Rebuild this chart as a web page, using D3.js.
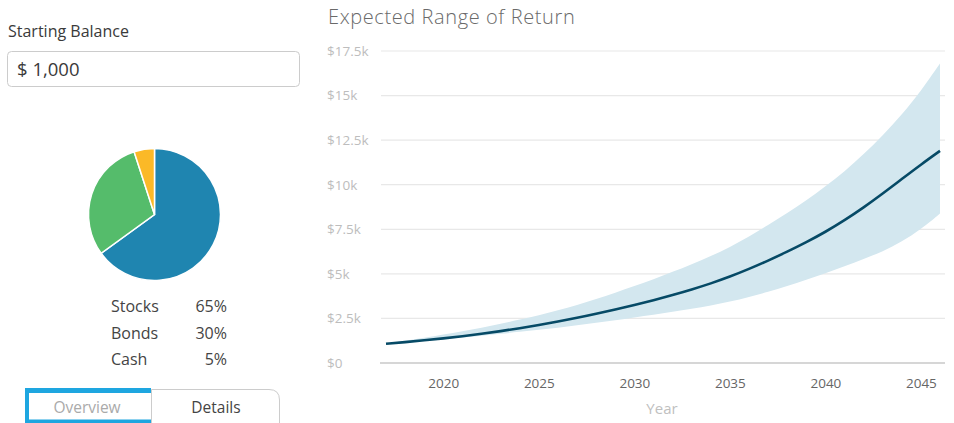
<!DOCTYPE html>
<html>
  <head>
    <script src="https://cdn.jsdelivr.net/npm/d3@7"></script>
    <style>
      body { margin: 0; background: #fff; font-family: "Open Sans", sans-serif; }
      svg { display: block; }
    </style>
  </head>
  <body>
    <script>
      // allocation
      const assets = ["Stocks", "Bonds", "Cash"];
      const shares = [65, 30, 5];
      const assetColors = ["#1f85b0", "#55bc6b", "#fbb927"];

      // projection, one point per year
      const years = d3.range(2017, 2047);
      const median = [1080, 1170, 1270, 1380, 1500, 1635, 1785, 1950, 2130, 2330,
                      2530, 2760, 3000, 3250, 3520, 3810, 4120, 4460, 4840, 5270,
                      5740, 6240, 6770, 7350, 8000, 8720, 9500, 10320, 11130, 11900];
      const upper = [1080, 1240, 1410, 1590, 1780, 1980, 2200, 2430, 2680, 2950,
                     3250, 3580, 3935, 4310, 4700, 5110, 5540, 5990, 6500, 7090,
                     7730, 8400, 9110, 9900, 10740, 11700, 12760, 13920, 15250, 16800];
      const lower = [1080, 1160, 1245, 1335, 1430, 1530, 1635, 1745, 1860, 1980,
                     2110, 2250, 2400, 2560, 2710, 2870, 3040, 3220, 3440, 3700,
                     3990, 4310, 4660, 5030, 5420, 5840, 6250, 6800, 7500, 8380];
      const yTicks = [0, 2500, 5000, 7500, 10000, 12500, 15000, 17500];
      const xTicks = [2020, 2025, 2030, 2035, 2040, 2045];

      const W = 954, H = 423;
      const svg = d3.select("body").append("svg")
          .attr("width", W)
          .attr("height", H);

      // ---- left panel ----
      svg.append("text")
          .attr("x", 8).attr("y", 37)
          .style("font-size", "16px").style("fill", "#3a3a3a")
          .text("Starting Balance");

      svg.append("rect")
          .attr("x", 7.5).attr("y", 51.5)
          .attr("width", 292).attr("height", 35)
          .attr("rx", 4)
          .attr("fill", "#fff").attr("stroke", "#ccc");

      svg.append("text")
          .attr("x", 17).attr("y", 76)
          .style("font-size", "18.5px").style("fill", "#3a3a3a")
          .text("$ 1,000");

      const pieData = d3.pie().sort(null)(shares);
      const arc = d3.arc().innerRadius(0).outerRadius(66);
      svg.append("g")
          .attr("transform", "translate(154.5,214.5)")
          .selectAll("path")
          .data(pieData)
          .join("path")
          .attr("d", arc)
          .attr("fill", (d, i) => assetColors[i])
          .attr("stroke", "#fff")
          .attr("stroke-width", 1.5);

      const legend = svg.append("g")
          .style("font-size", "16px").style("fill", "#444");
      assets.forEach((a, i) => {
        legend.append("text")
            .attr("x", 111).attr("y", 312 + i * 26.5)
            .text(a);
        legend.append("text")
            .attr("x", 227).attr("y", 312 + i * 26.5)
            .attr("text-anchor", "end")
            .text(shares[i] + "%");
      });

      // tabs
      svg.append("path")
          .attr("d", "M151.5,423 V389.5 H269 Q279.5,389.5 279.5,400 V423")
          .attr("fill", "#fff").attr("stroke", "#ccc");
      svg.append("path")
          .attr("d", "M25,388 H151 V393 H29 V419.5 H151 V424 H25 Z")
          .attr("fill", "#1ea6e0");
      svg.append("text")
          .attr("x", 87).attr("y", 413)
          .attr("text-anchor", "middle")
          .style("font-size", "15.5px").style("fill", "#aaa")
          .text("Overview");
      svg.append("text")
          .attr("x", 216).attr("y", 413)
          .attr("text-anchor", "middle")
          .style("font-size", "15.5px").style("fill", "#444")
          .text("Details");

      // ---- chart ----
      svg.append("text")
          .attr("x", 328).attr("y", 24)
          .style("font-size", "20px").style("font-weight", 300)
          .style("letter-spacing", "0.6px")
          .style("fill", "#6a6a6a")
          .text("Expected Range of Return");

      const x = d3.scaleLinear().domain([2017, 2046]).range([386, 940]);
      const y = d3.scaleLinear().domain([0, 17500]).range([363, 51]);

      svg.append("g")
          .selectAll("line")
          .data(yTicks.slice(1))
          .join("line")
          .attr("x1", 381).attr("x2", 945)
          .attr("y1", d => y(d)).attr("y2", d => y(d))
          .attr("stroke", "#e8e8e8").attr("stroke-width", 1.2);

      const yAxis = svg.append("g")
          .attr("transform", "translate(327,0)")
          .call(d3.axisRight(y).tickValues(yTicks).tickSize(0).tickPadding(0)
              .tickFormat(d => d === 0 ? "$0" : "$" + d3.format("~")(d / 1000) + "k"));
      yAxis.select(".domain").remove();
      yAxis.selectAll("text")
          .style("font-family", "'Open Sans', sans-serif")
          .style("font-size", "13.5px")
          .style("fill", "#bdbdbd");

      const data = years.map((yr, i) => ({ yr, m: median[i], lo: lower[i], hi: upper[i] }));

      svg.append("path")
          .datum(data)
          .attr("fill", "#d3e7ef")
          .attr("d", d3.area()
              .x(d => x(d.yr)).y0(d => y(d.lo)).y1(d => y(d.hi))
              .curve(d3.curveBasis));

      svg.append("path")
          .datum(data)
          .attr("fill", "none")
          .attr("stroke", "#064a66")
          .attr("stroke-width", 2.6)
          .attr("d", d3.line()
              .x(d => x(d.yr)).y(d => y(d.m))
              .curve(d3.curveBasis));

      svg.append("line")
          .attr("x1", 380).attr("x2", 945)
          .attr("y1", y(0)).attr("y2", y(0))
          .attr("stroke", "#c8c8c8").attr("stroke-width", 1.5);

      const xAxis = svg.append("g")
          .attr("transform", "translate(0," + (y(0) + 9) + ")")
          .call(d3.axisBottom(x).tickValues(xTicks).tickSize(0).tickPadding(6)
              .tickFormat(d3.format("d")));
      xAxis.select(".domain").remove();
      xAxis.selectAll("text")
          .style("font-family", "'Open Sans', sans-serif")
          .style("font-size", "13.5px")
          .style("fill", "#666");

      svg.append("text")
          .attr("x", 662).attr("y", 414)
          .attr("text-anchor", "middle")
          .style("font-size", "15px").style("fill", "#c0c0c0")
          .text("Year");
    </script>
  </body>
</html>
